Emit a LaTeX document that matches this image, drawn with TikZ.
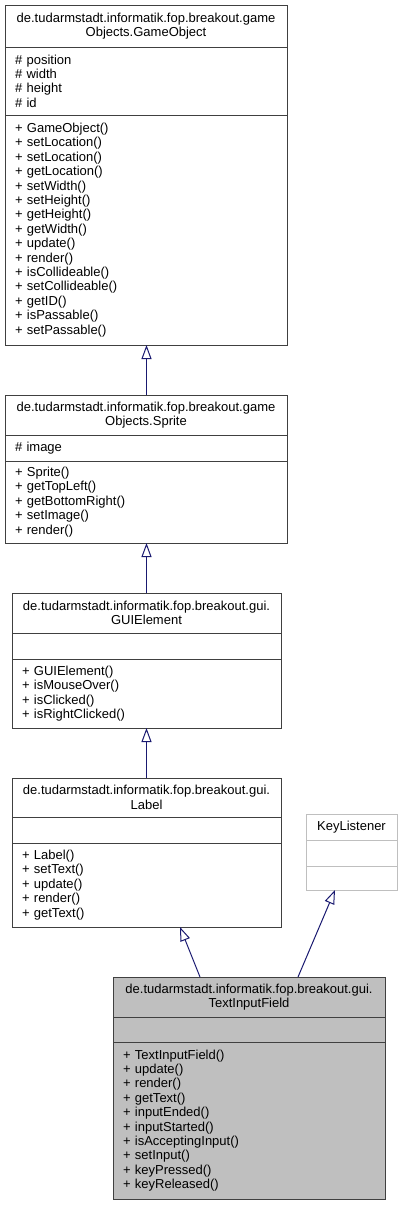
\documentclass[tikz,border=0pt]{standalone}
\usepackage{fontspec}
\setmainfont{Liberation Sans}
\usetikzlibrary{arrows.meta}
\definecolor{edgecol}{RGB}{25,25,112}
\definecolor{boxline}{RGB}{64,64,64}
\definecolor{lightline}{RGB}{191,191,191}
\definecolor{focusfill}{RGB}{191,191,191}
\begin{document}
\begin{tikzpicture}[x=1pt,y=1pt,
  sect/.style={draw=boxline, line width=1pt, anchor=north west, inner ysep=0pt, inner xsep=10pt, outer sep=0pt, font=\fontsize{13}{14.4}\selectfont},
  titlesec/.style={sect, align=center},
  listsec/.style={sect, align=left},
  wide/.style={text width=262pt, minimum width=282pt},
  mid/.style={text width=249pt, minimum width=269pt},
  tif/.style={text width=252pt, minimum width=272pt, fill=focusfill},
  kls/.style={draw=lightline, text width=71pt, minimum width=91pt},
  inh/.style={draw=edgecol, line width=1pt, -{Triangle[open, length=14pt, width=10pt]}},
]
\useasboundingbox (0,0) rectangle (403,-1205);

% GameObject
\node[titlesec, wide, minimum height=42pt] (go-t) at (5,-5) {de.tudarmstadt.informatik.fop.breakout.game\\Objects.GameObject};
\node[listsec, wide, minimum height=68pt] (go-a) at (go-t.south west) {\# position\\\# width\\\# height\\\# id};
\node[listsec, wide, minimum height=230pt] (go-m) at (go-a.south west) {+ GameObject()\\+ setLocation()\\+ setLocation()\\+ getLocation()\\+ setWidth()\\+ setHeight()\\+ getHeight()\\+ getWidth()\\+ update()\\+ render()\\+ isCollideable()\\+ setCollideable()\\+ getID()\\+ isPassable()\\+ setPassable()};

% Sprite
\node[titlesec, wide, minimum height=40pt] (sp-t) at (5,-395) {de.tudarmstadt.informatik.fop.breakout.game\\Objects.Sprite};
\node[listsec, wide, minimum height=26pt] (sp-a) at (sp-t.south west) {\# image};
\node[listsec, wide, minimum height=82pt] (sp-m) at (sp-a.south west) {+ Sprite()\\+ getTopLeft()\\+ getBottomRight()\\+ setImage()\\+ render()};

% GUIElement
\node[titlesec, mid, minimum height=40pt] (gui-t) at (12,-593) {de.tudarmstadt.informatik.fop.breakout.gui.\\GUIElement};
\node[listsec, mid, minimum height=26pt] (gui-a) at (gui-t.south west) {};
\node[listsec, mid, minimum height=69pt] (gui-m) at (gui-a.south west) {+ GUIElement()\\+ isMouseOver()\\+ isClicked()\\+ isRightClicked()};

% Label
\node[titlesec, mid, minimum height=39pt] (lab-t) at (12,-778) {de.tudarmstadt.informatik.fop.breakout.gui.\\Label};
\node[listsec, mid, minimum height=26pt] (lab-a) at (lab-t.south west) {};
\node[listsec, mid, minimum height=84pt] (lab-m) at (lab-a.south west) {+ Label()\\+ setText()\\+ update()\\+ render()\\+ getText()};

% KeyListener
\node[titlesec, kls, minimum height=26pt] (kl-t) at (306,-814) {KeyListener};
\node[listsec, kls, minimum height=26pt] (kl-a) at (kl-t.south west) {};
\node[listsec, kls, minimum height=24pt] (kl-m) at (kl-a.south west) {};

% TextInputField
\node[titlesec, tif, minimum height=40pt] (tif-t) at (113,-977) {de.tudarmstadt.informatik.fop.breakout.gui.\\TextInputField};
\node[listsec, tif, minimum height=25pt] (tif-a) at (tif-t.south west) {};
\node[listsec, tif, minimum height=157pt] (tif-m) at (tif-a.south west) {+ TextInputField()\\+ update()\\+ render()\\+ getText()\\+ inputEnded()\\+ inputStarted()\\+ isAcceptingInput()\\+ setInput()\\+ keyPressed()\\+ keyReleased()};

% inheritance
\draw[inh] ([xshift=141.5pt]sp-t.north west) -- ([xshift=141.5pt]go-m.south west);
\draw[inh] (gui-t.north) -- ([xshift=141.5pt]sp-m.south west);
\draw[inh] (lab-t.north) -- (gui-m.south);
\draw[inh] ([xshift=87pt]tif-t.north west) -- ([xshift=168pt]lab-m.south west);
\draw[inh] ([xshift=185pt]tif-t.north west) -- ([xshift=29pt]kl-m.south west);
\end{tikzpicture}
\end{document}
